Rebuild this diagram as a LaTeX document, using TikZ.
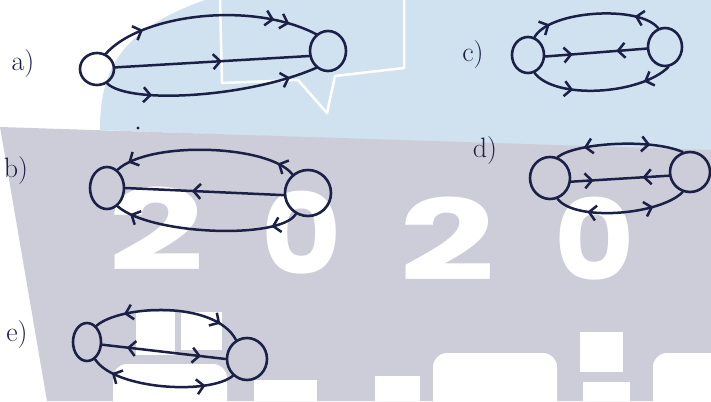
\documentclass[tikz,border=0pt]{standalone}
\usepackage{fontspec}
\newfontfamily\wmfont{Poppins}
\usetikzlibrary{arrows.meta,decorations.markings,shapes.geometric}
\definecolor{ink}{HTML}{1B2046}
\definecolor{wmblue}{HTML}{D0E1EF}
\definecolor{wmgrey}{HTML}{CDCDD9}
\tikzset{
  vtx/.style 2 args={ellipse, draw=ink, line width=2.6pt, inner sep=0pt,
    minimum width=#1, minimum height=#2},
  edge/.style={draw=ink, line width=2.5pt, line cap=round},
  fw/.style={postaction={decorate, decoration={markings,
    mark=at position #1 with {\arrow[ink]{Straight Barb[length=7pt,width=15pt]}}}}},
  bw/.style={postaction={decorate, decoration={markings,
    mark=at position #1 with {\arrowreversed[ink]{Straight Barb[length=7pt,width=15pt]}}}}},
  lab/.style={text=ink, inner sep=0pt, font=\fontsize{28}{28}\selectfont},
  digit/.style={text=white, inner sep=0pt, anchor=base, font=\wmfont\bfseries\fontsize{112}{112}\selectfont},
  wmline/.style={draw=white, line width=2.5pt, line join=round},
}
\begin{document}
\begin{tikzpicture}[x=1pt,y=-1pt]
\useasboundingbox (0,0) rectangle (711,401);
% watermark background
\fill[white] (0,0) rectangle (711,401);
\fill[wmblue] (205,0) -- (711,0) -- (711,152) -- (100,130) .. controls (100,70) and (120,30) .. (205,0) -- cycle;
\draw[wmline] (220,0) -- (222,83) -- (298,80) -- (327,113) -- (335,76) -- (404,68) -- (404,0);
\fill[wmgrey] (0,127) -- (711,150) -- (711,401) -- (47,401) -- cycle;
\node[digit] (w1) at (156,270) {\scalebox{1.5}[1]{2}};
\node[digit] (w2) at (302,274) {\scalebox{1.1}[1]{0}};
\node[digit] (w3) at (447,280) {\scalebox{1.5}[1]{2}};
\node[digit] (w4) at (595,280) {\scalebox{1.1}[1]{0}};
\fill[white] (136,312) rectangle (175,355);
\fill[white] (181,312) rectangle (222,350);
\fill[white, rounded corners=14pt] (113,364) rectangle (227,420);
\fill[white] (254,380) rectangle (317,401);
\fill[white] (375,376) rectangle (420,401);
\fill[white, rounded corners=14pt] (433,353) rectangle (557,420);
\fill[white] (580,332) rectangle (623,372);
\fill[white] (583,382) rectangle (630,401);
\fill[white, rounded corners=14pt] (653,353) rectangle (730,420);

% labels
\node[lab] (la) at (23,64) {a)};
\node[lab] (lb) at (16,171) {b)};
\node[lab] (lc) at (473,55) {c)};
\node[lab] (ld) at (485,151) {d)};
\node[lab] (le) at (17,335) {e)};
\fill[ink] (138,128) circle (1.6);

% a)
\node[vtx={34pt}{32pt}] (aL) at (97,69) {};
\node[vtx={36pt}{40pt}] (aR) at (328,51) {};
\draw[edge, fw=0.2, fw=0.8, fw=0.87] (aL.60) .. controls (140,15) and (250,0) .. (aR.125);
\draw[edge, fw=0.55] (aL.5) -- (aR.195);
\draw[edge, fw=0.22, fw=0.87] (aL.-55) .. controls (130,105) and (250,97) .. (aR.-125);

% b)
\node[vtx={34pt}{42pt}] (bL) at (107,188) {};
\node[vtx={46pt}{46pt}] (bR) at (308,193) {};
\draw[edge, fw=0.1, fw=0.93] (bR.130) .. controls (270,145) and (150,140) .. (bL.60);
\draw[edge, fw=0.58] (bR.185) -- (bL.0);
\draw[edge, fw=0.15, fw=0.92] (bR.-120) .. controls (280,240) and (150,235) .. (bL.-60);

% c)
\node[vtx={32pt}{36pt}] (cL) at (528,55) {};
\node[vtx={34pt}{38pt}] (cR) at (665,47) {};
\draw[edge, fw=0.15, bw=0.8] (cL.70) .. controls (550,10) and (640,5) .. (cR.110);
\draw[edge, fw=0.27, bw=0.7] (cL.-5) -- (cR.185);
\draw[edge, fw=0.3, bw=0.8] (cL.-70) .. controls (555,100) and (640,95) .. (cR.-80);

% d)
\node[vtx={40pt}{42pt}] (dL) at (550,178) {};
\node[vtx={40pt}{40pt}] (dR) at (690,172) {};
\draw[edge, bw=0.22, fw=0.74] (dL.70) .. controls (575,143) and (650,138) .. (dR.110);
\draw[edge, fw=0.23, bw=0.73] (dL.-10) -- (dR.190);
\draw[edge, bw=0.25, fw=0.75] (dL.-70) .. controls (575,222) and (660,215) .. (dR.-110);

% e)
\node[vtx={28pt}{38pt}] (eL) at (87,342) {};
\node[vtx={40pt}{42pt}] (eR) at (247,359) {};
\draw[edge, bw=0.2, fw=0.85] (eL.60) .. controls (120,305) and (215,300) .. (eR.120);
\draw[edge, bw=0.2, fw=0.8] (eL.-10) -- (eR.180);
\draw[edge, bw=0.15, fw=0.8] (eL.-65) .. controls (115,390) and (210,395) .. (eR.-130);
\end{tikzpicture}
\end{document}
